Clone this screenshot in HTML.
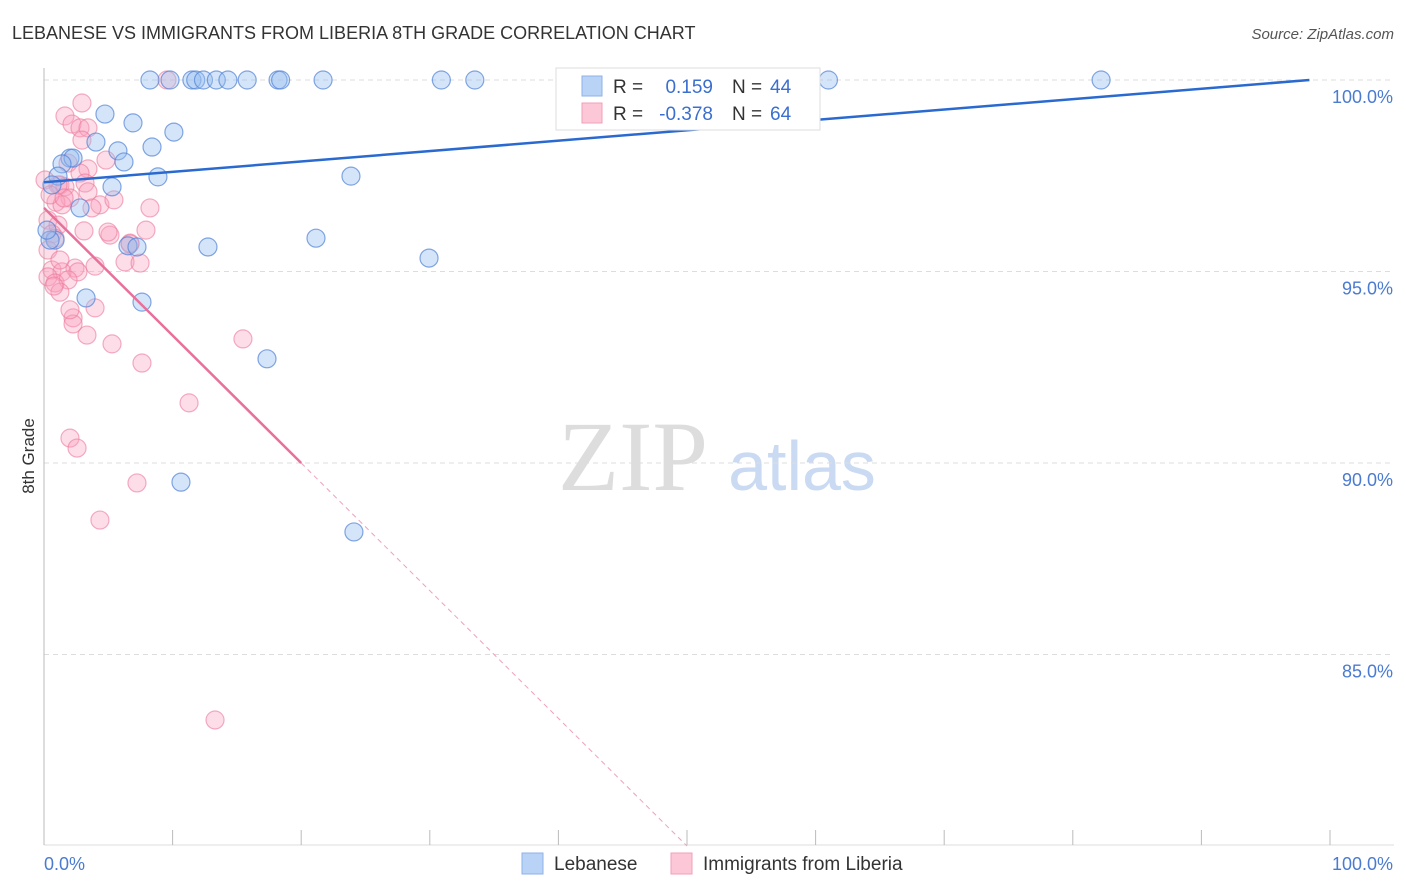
<!DOCTYPE html>
<html><head><meta charset="utf-8"><style>
body{margin:0;background:#fff;font-family:"Liberation Sans",sans-serif}
svg{display:block}
</style></head><body>
<svg id="chart" width="1406" height="892" xmlns="http://www.w3.org/2000/svg" font-family="Liberation Sans, sans-serif">
<text x="12" y="39" font-size="18" fill="#333">LEBANESE VS IMMIGRANTS FROM LIBERIA 8TH GRADE CORRELATION CHART</text>
<text x="1394" y="39" font-size="15" fill="#555" text-anchor="end" font-style="italic">Source: ZipAtlas.com</text>
<g>
<text x="633" y="490" font-size="100" font-family="Liberation Serif, serif" fill="#ddd" text-anchor="middle">ZIP</text>
<text x="802" y="490" font-size="70" fill="#c9daf2" text-anchor="middle">atlas</text>
</g>
<g id="grid"></g>
<g id="axes"></g>
<g id="pts"></g>
<g id="trend"></g>
<text transform="translate(34,456) rotate(-90)" font-size="17" fill="#333" text-anchor="middle">8th Grade</text>
<g>
<rect x="556" y="68" width="264" height="62" fill="#fff" stroke="#ddd"/>
<rect x="582" y="76" width="20" height="20" fill="#b9d3f7" stroke="#8fb2e8"/>
<rect x="582" y="103" width="20" height="20" fill="#fcc7d7" stroke="#f0a0b8"/>
<text x="613" y="93" font-size="19" fill="#333">R =</text>
<text x="713" y="93" font-size="19" fill="#3a6fd0" text-anchor="end">0.159</text>
<text x="732" y="93" font-size="19" fill="#333">N =</text>
<text x="770" y="93" font-size="19" fill="#3a6fd0">44</text>
<text x="613" y="120" font-size="19" fill="#333">R =</text>
<text x="713" y="120" font-size="19" fill="#3a6fd0" text-anchor="end">-0.378</text>
<text x="732" y="120" font-size="19" fill="#333">N =</text>
<text x="770" y="120" font-size="19" fill="#3a6fd0">64</text>
</g>
<g>
<rect x="522" y="853" width="21" height="21" fill="#b9d3f7" stroke="#8fb2e8"/>
<text x="554" y="870" font-size="19" fill="#333">Lebanese</text>
<rect x="671" y="853" width="21" height="21" fill="#fcc7d7" stroke="#f0a0b8"/>
<text x="703" y="870" font-size="19" fill="#333">Immigrants from Liberia</text>
</g>
</svg>
<script>
const blueX=[8.24,9.8,11.5,11.8,12.4,13.4,14.3,15.8,18.2,18.4,21.7,30.9,33.5,61.0,82.2,4.74,6.92,10.1,4.04,5.75,8.4,2.02,2.26,1.4,6.22,1.09,8.86,23.87,0.62,5.29,2.8,21.15,12.75,0.86,6.53,7.23,29.94,3.27,7.62,17.34,10.65,24.1,0.47,0.23];
const blueY=[100,100,100,100,100,100,100,100,100,100,100,100,100,100,100,99.11,98.88,98.64,98.38,98.15,98.25,97.96,97.96,97.81,97.86,97.49,97.47,97.49,97.26,97.21,96.66,95.87,95.64,95.82,95.67,95.64,95.35,94.31,94.2,92.72,89.5,88.2,95.82,96.08];
const pinkX=[9.56,2.95,1.63,2.18,2.8,3.42,2.95,4.82,1.87,3.42,2.8,1.24,1.63,3.19,3.42,2.02,0.93,1.4,4.35,5.44,3.73,8.24,0.31,1.09,3.11,5.13,7.93,0.62,0.86,6.69,0.31,6.3,7.47,0.62,2.41,1.4,2.64,0.31,0.86,1.87,1.24,3.97,2.26,2.26,3.34,5.29,15.47,7.62,11.28,2.02,2.57,7.23,4.35,13.3,1.09,0.08,0.47,1.56,4.98,6.69,3.97,0.78,2.02,1.24];
const pinkY=[100,99.4,99.06,98.85,98.75,98.75,98.43,97.91,97.83,97.68,97.57,97.26,97.21,97.31,97.08,96.92,96.81,96.74,96.74,96.87,96.66,96.66,96.34,96.21,96.06,95.95,96.08,95.98,95.87,95.74,95.56,95.25,95.22,95.04,95.09,94.99,94.99,94.86,94.7,94.78,94.46,94.05,93.79,93.63,93.34,93.11,93.24,92.61,91.57,90.65,90.39,89.48,88.51,83.29,97.26,97.39,97.0,96.92,96.03,95.72,95.14,94.62,94.0,95.3];
const yTicks=[100,95,90,85];
const yTickLabels=["100.0%","95.0%","90.0%","85.0%"];
const xTicks=[0,10,20,30,40,50,60,70,80,90,100];
const blueTrend=[[0,97.33],[98.4,100]];
const pinkSolid=[[0,96.66],[20,90]];
const pinkDash=[[20,90],[50,80]];
const NS="http://www.w3.org/2000/svg";
const X=v=>44+v*12.86, Y=v=>80+(100-v)*38.3;
function mk(p,t,a){const e=document.createElementNS(NS,t);for(const k in a)e.setAttribute(k,a[k]);p.appendChild(e);return e;}
const grid=document.getElementById('grid'),axes=document.getElementById('axes'),pts=document.getElementById('pts'),tr=document.getElementById('trend');
yTicks.forEach((v,i)=>{
 const l=mk(grid,'line',{x1:44,x2:1394,y1:Y(v),y2:Y(v),stroke:'#ddd','stroke-dasharray':'5,4'});
 
 
 const t=mk(axes,'text',{x:1393,y:Y(v)+23,'font-size':18,fill:'#4a7bd0','text-anchor':'end'});
 t.textContent=yTickLabels[i];
 
 
});
const ax=mk(axes,'line',{x1:44,x2:44,y1:68,y2:845,stroke:'#bbb'});


const bx=mk(axes,'line',{x1:44,x2:1394,y1:845,y2:845,stroke:'#ddd'});


xTicks.forEach(v=>{
 const l=mk(axes,'line',{x1:X(v),x2:X(v),y1:830,y2:845,stroke:'#bbb'});
 
 
});
const x0=mk(axes,'text',{x:44,y:870,'font-size':18,fill:'#4a7bd0'});x0.textContent='0.0%';


const x1=mk(axes,'text',{x:1393,y:870,'font-size':18,fill:'#4a7bd0','text-anchor':'end'});x1.textContent='100.0%';


pinkX.forEach((v,i)=>{
 const c=mk(pts,'circle',{cx:X(v),cy:Y(pinkY[i]),r:9,fill:'rgba(248,160,188,0.35)',stroke:'rgba(236,120,155,0.6)','stroke-width':1.2});
 
 
});
blueX.forEach((v,i)=>{
 const c=mk(pts,'circle',{cx:X(v),cy:Y(blueY[i]),r:9,fill:'rgba(150,190,240,0.4)',stroke:'rgba(80,130,215,0.7)','stroke-width':1.2});
 
 
});
const b=mk(tr,'line',{x1:X(blueTrend[0][0]),y1:Y(blueTrend[0][1]),x2:X(blueTrend[1][0]),y2:Y(blueTrend[1][1]),stroke:'#2a6ad0','stroke-width':2.5});


const p=mk(tr,'line',{x1:X(pinkSolid[0][0]),y1:Y(pinkSolid[0][1]),x2:X(pinkSolid[1][0]),y2:Y(pinkSolid[1][1]),stroke:'#e8709a','stroke-width':2.5});


const pd=mk(tr,'line',{x1:X(pinkDash[0][0]),y1:Y(pinkDash[0][1]),x2:X(pinkDash[1][0]),y2:Y(pinkDash[1][1]),stroke:'#f0a0b8','stroke-width':1,'stroke-dasharray':'5,4'});


</script>
</body></html>
